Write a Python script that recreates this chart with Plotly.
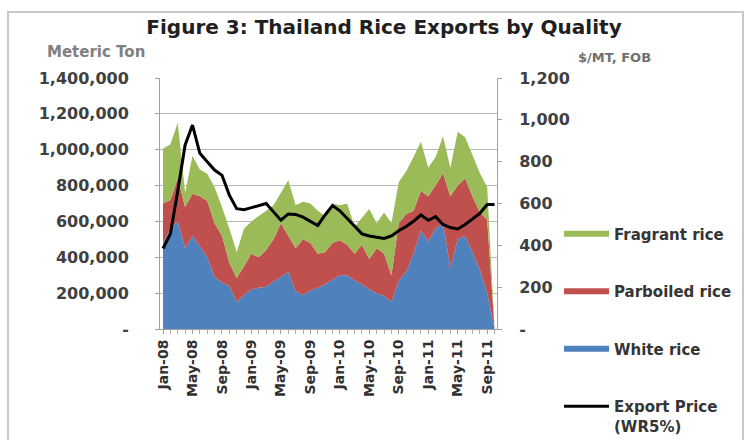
import plotly.graph_objects as go

months = ["Jan-08","Feb-08","Mar-08","Apr-08","May-08","Jun-08","Jul-08","Aug-08","Sep-08","Oct-08","Nov-08","Dec-08",
          "Jan-09","Feb-09","Mar-09","Apr-09","May-09","Jun-09","Jul-09","Aug-09","Sep-09","Oct-09","Nov-09","Dec-09",
          "Jan-10","Feb-10","Mar-10","Apr-10","May-10","Jun-10","Jul-10","Aug-10","Sep-10","Oct-10","Nov-10","Dec-10",
          "Jan-11","Feb-11","Mar-11","Apr-11","May-11","Jun-11","Jul-11","Aug-11","Sep-11","Oct-11"]

white_rice = [480000, 560000, 600000, 450000, 520000, 460000, 400000, 290000, 260000, 240000, 150000, 190000,
              220000, 230000, 235000, 265000, 290000, 320000, 210000, 190000, 215000, 230000, 250000, 275000,
              300000, 300000, 270000, 250000, 220000, 200000, 185000, 150000, 270000, 320000, 420000, 550000,
              490000, 560000, 590000, 340000, 500000, 520000, 430000, 330000, 200000, 0]

white_plus_parboiled = [700000, 720000, 840000, 680000, 755000, 740000, 715000, 590000, 520000, 370000, 285000, 350000,
                        420000, 400000, 440000, 500000, 590000, 520000, 450000, 500000, 480000, 420000, 430000, 480000,
                        495000, 470000, 420000, 470000, 390000, 450000, 420000, 300000, 590000, 640000, 660000, 770000,
                        740000, 800000, 870000, 740000, 800000, 840000, 740000, 650000, 610000, 0]

total_exports = [1005000, 1030000, 1150000, 760000, 965000, 890000, 866000, 790000, 680000, 560000, 430000, 560000,
                 600000, 630000, 660000, 690000, 760000, 830000, 690000, 710000, 700000, 660000, 630000, 700000,
                 690000, 700000, 570000, 620000, 670000, 590000, 650000, 590000, 820000, 880000, 960000, 1045000,
                 900000, 960000, 1075000, 900000, 1100000, 1070000, 970000, 870000, 790000, 0]

parboiled_rice = [b - a for a, b in zip(white_rice, white_plus_parboiled)]
fragrant_rice = [c - b for b, c in zip(white_plus_parboiled, total_exports)]

export_price = [385, 455, 660, 880, 975, 840, 800, 760, 735, 640, 575, 570,
                580, 590, 600, 560, 520, 550, 548, 535, 515, 495, 545, 590,
                565, 530, 495, 455, 445, 440, 433, 445, 470, 490, 515, 545,
                520, 537, 500, 485, 478, 500, 525, 553, 595, 595]

left_ticks = [0, 200000, 400000, 600000, 800000, 1000000, 1200000, 1400000]
left_ticktext = ["-", "200,000", "400,000", "600,000", "800,000", "1,000,000", "1,200,000", "1,400,000"]
right_ticks = [0, 200, 400, 600, 800, 1000, 1200]
right_ticktext = ["-", "200", "400", "600", "800", "1,000", "1,200"]

idx = list(range(len(months)))
FONT = "DejaVu Sans"

fig = go.Figure()
fig.add_trace(go.Scatter(x=idx, y=white_rice, name="White rice", stackgroup="a", mode="none",
                         fillcolor="#4F81BD", legendrank=3, legendgroup="w"))
fig.add_trace(go.Scatter(x=idx, y=parboiled_rice, name="Parboiled rice", stackgroup="a", mode="none",
                         fillcolor="#C0504D", legendrank=2, legendgroup="p"))
fig.add_trace(go.Scatter(x=idx, y=fragrant_rice, name="Fragrant rice", stackgroup="a", mode="none",
                         fillcolor="#9BBB59", legendrank=1, legendgroup="f"))
fig.add_trace(go.Scatter(x=idx, y=export_price, name="Export Price<br>(WR5%)", yaxis="y2", mode="lines",
                         line=dict(color="#000000", width=3), legendrank=4, legendgroup="e"))

fig.update_layout(
    width=745, height=440,
    margin=dict(l=160, r=248, t=78, b=111, autoexpand=False),
    paper_bgcolor="white", plot_bgcolor="white",
    font=dict(family=FONT, color="#404040"),
    showlegend=True,
    legend=dict(x=1.184, y=0.444, xanchor="left", yanchor="top",
                font=dict(size=15, color="#353535", family=FONT, weight="bold"),
                tracegroupgap=35, itemwidth=45, valign="top", bgcolor="rgba(0,0,0,0)"),
    xaxis=dict(range=[-0.41, 45.33], tickmode="array", tickvals=idx[::4], ticktext=months[::4],
               tickangle=-90, tickfont=dict(size=14, color="#303030", family=FONT, weight="bold"),
               showgrid=False, zeroline=False, showline=True, linecolor="#A0A0A0",
               ticks="outside", ticklen=4, tickcolor="#A0A0A0",
               minor=dict(ticks="outside", dtick=1, ticklen=4, tickcolor="#B0B0B0")),
    yaxis=dict(range=[0, 1400000], tickmode="array", tickvals=left_ticks, ticktext=left_ticktext,
               tickfont=dict(size=16, color="#404040", family=FONT, weight="bold"),
               showgrid=True, gridcolor="#B8B8B8",
               zeroline=False, showline=True, linecolor="#A0A0A0", ticks="outside", ticklen=4,
               tickcolor="#A0A0A0", ticklabelstandoff=23),
    yaxis2=dict(range=[0, 1200], overlaying="y", side="right", tickmode="array", tickvals=right_ticks,
                ticktext=right_ticktext, tickfont=dict(size=16, color="#404040", family=FONT, weight="bold"),
                showgrid=False, zeroline=False, showline=True, linecolor="#A0A0A0", ticks="outside",
                ticklen=4, tickcolor="#A0A0A0", ticklabelstandoff=14),
    title=dict(text="<b>Figure 3: Thailand Rice Exports by Quality</b>", x=384 / 745, xref="container",
               xanchor="center", y=(440 - 27) / 440, yref="container", yanchor="middle",
               font=dict(size=20, color="#202020", family=FONT)),
)

fig.add_annotation(text="<b>Meteric Ton</b>", xref="paper", yref="paper", x=(96 - 160) / 337, y=(329 - 52) / 251,
                   showarrow=False, font=dict(size=15, color="#808080", family=FONT), xanchor="center", yanchor="middle")
fig.add_annotation(text="<b>$/MT, FOB</b>", xref="paper", yref="paper", x=(614 - 160) / 337, y=(329 - 57) / 251,
                   showarrow=False, font=dict(size=13, color="#707070", family=FONT), xanchor="center", yanchor="middle")
fig.add_shape(type="rect", xref="paper", yref="paper", x0=(8 - 160) / 337, x1=(743 - 160) / 337,
              y0=(329 - 445) / 251, y1=(329 - 12) / 251, line=dict(color="#C8C8C8", width=2), layer="below")

fig.write_html("out.html", config={"displayModeBar": False},
               post_script="document.body.style.margin='0';")
